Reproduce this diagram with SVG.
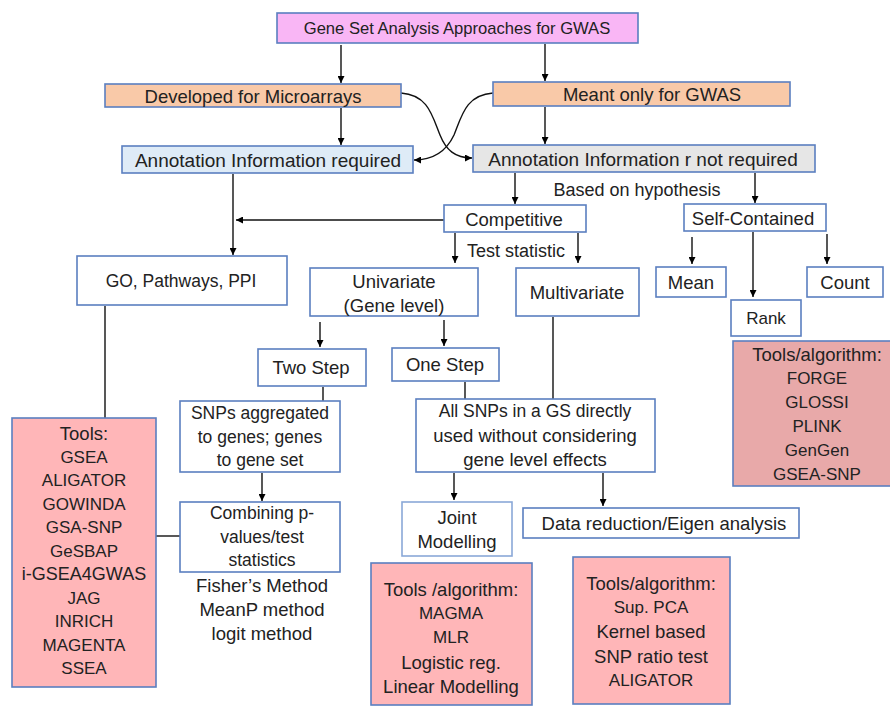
<svg xmlns="http://www.w3.org/2000/svg" width="890" height="706" viewBox="0 0 890 706">
<defs>
<marker id="ah" viewBox="0 0 10 10" refX="10" refY="5" markerWidth="7" markerHeight="7" markerUnits="userSpaceOnUse" orient="auto"><path d="M0,0 L10,5 L0,10 z" fill="#000"/></marker>
<style>
text{font-family:"Liberation Sans",Arial,sans-serif;font-size:18.5px;fill:#222;text-anchor:middle;dominant-baseline:central}
.u{font-size:17px}
.m{font-size:17.5px}
.b{stroke:#5b7fc0;stroke-width:1.6}
.w{fill:#fff}
.c{fill:none;stroke:#111;stroke-width:1.4}
.a{marker-end:url(#ah)}
.t1{fill:#ffb6b8}
.t2{fill:#e8a9a9}
</style>
</defs>
<rect width="890" height="706" fill="#fff"/>
<g id="connectors">
<line class="c a" x1="341" y1="45" x2="341" y2="83"/>
<line class="c a" x1="545" y1="44" x2="545" y2="81"/>
<line class="c a" x1="341" y1="108" x2="341" y2="145"/>
<line class="c a" x1="545" y1="107" x2="545" y2="144"/>
<path class="c a" d="M401,93 C428,95 432,115 440,135 C446,150 455,158 472,158"/>
<path class="c a" d="M493,93 C466,95 462,115 454,135 C446,152 432,160 414,160"/>
<line class="c a" x1="515" y1="173" x2="515" y2="204"/>
<line class="c a" x1="755" y1="173" x2="755" y2="203"/>
<line class="c" x1="233" y1="174" x2="233" y2="220"/>
<line class="c a" x1="233" y1="220" x2="233" y2="255"/>
<line class="c a" x1="444" y1="220" x2="236" y2="220"/>
<line class="c a" x1="455" y1="233" x2="455" y2="263"/>
<line class="c a" x1="578" y1="233" x2="578" y2="263"/>
<line class="c a" x1="692" y1="237" x2="692" y2="264"/>
<line class="c a" x1="753" y1="232" x2="753" y2="297"/>
<line class="c a" x1="827" y1="234" x2="827" y2="264"/>
<line class="c a" x1="320" y1="322" x2="320" y2="347"/>
<line class="c a" x1="444" y1="320" x2="444" y2="346"/>
<line class="c" x1="323" y1="387" x2="323" y2="401"/>
<line class="c a" x1="262" y1="473" x2="262" y2="501"/>
<line class="c" x1="105" y1="306" x2="105" y2="418"/>
<line class="c" x1="156" y1="536" x2="180" y2="536"/>
<line class="c" x1="465" y1="382" x2="465" y2="399"/>
<line class="c" x1="553" y1="317" x2="553" y2="399"/>
<line class="c a" x1="454" y1="473" x2="454" y2="500"/>
<line class="c a" x1="603" y1="473" x2="603" y2="506"/>
</g>
<g id="title"><rect class="b" x="277" y="13" width="361" height="30" fill="#f9b6f5"/><text x="457" y="28" style="font-size:16.6px">Gene Set Analysis Approaches for GWAS</text></g>
<g id="micro"><rect class="b" x="105" y="84" width="296" height="23" fill="#f9c9a8"/><text x="253" y="96">Developed for Microarrays</text></g>
<g id="gwas"><rect class="b" x="493" y="82" width="297" height="24" fill="#f9c9a8"/><text x="652" y="94">Meant only for GWAS</text></g>
<g id="annreq"><rect class="b" x="122" y="146" width="291" height="27" fill="#deebf7"/><text x="268" y="160" style="font-size:19px">Annotation Information required</text></g>
<g id="annnot"><rect class="b" x="473" y="145" width="342" height="27" fill="#e6e6e6"/><text x="643" y="159" style="font-size:19px">Annotation Information r not required</text></g>
<g id="hyp"><text x="637" y="190" style="font-size:18px">Based on hypothesis</text></g>
<g id="competitive"><rect class="b w" x="444" y="205" width="142" height="27"/><text x="514" y="219">Competitive</text></g>
<g id="selfcont"><rect class="b w" x="684" y="204" width="142" height="27"/><text x="753" y="218">Self-Contained</text></g>
<g id="teststat"><text x="516" y="251" style="font-size:18px">Test statistic</text></g>
<g id="go"><rect class="b w" x="77" y="256" width="210" height="49"/><text x="181" y="281" class="m">GO, Pathways, PPI</text></g>
<g id="univariate"><rect class="b w" x="310" y="268" width="168" height="48"/><text x="394" y="281">Univariate</text><text x="394" y="305">(Gene level)</text></g>
<g id="multivariate"><rect class="b w" x="516" y="268" width="123" height="48"/><text x="577" y="292">Multivariate</text></g>
<g id="mean"><rect class="b w" x="656" y="267" width="70" height="30"/><text x="691" y="282">Mean</text></g>
<g id="rank"><rect class="b w" x="731" y="300" width="70" height="36"/><text x="766" y="318" class="u">Rank</text></g>
<g id="count"><rect class="b w" x="807" y="267" width="76" height="30"/><text x="845" y="282">Count</text></g>
<g id="tools-right"><rect class="b t2" x="733" y="341" width="160" height="145"/><text x="817" y="354">Tools/algorithm:</text><text x="817" y="378" class="u">FORGE</text><text x="817" y="402" class="u">GLOSSI</text><text x="817" y="426" class="u">PLINK</text><text x="817" y="450" class="u">GenGen</text><text x="817" y="474" class="u">GSEA-SNP</text></g>
<g id="twostep"><rect class="b w" x="258" y="349" width="108" height="37"/><text x="311" y="367">Two Step</text></g>
<g id="onestep"><rect class="b w" x="392" y="348" width="107" height="33"/><text x="445" y="364">One Step</text></g>
<g id="snpsagg"><rect class="b w" x="180" y="401" width="160" height="71"/><text x="260" y="413" class="m">SNPs aggregated</text><text x="260" y="437" class="m">to genes; genes</text><text x="260" y="460" class="m">to gene set</text></g>
<g id="combining"><rect class="b w" x="180" y="502" width="160" height="70"/><text x="262" y="513" class="m">Combining p-</text><text x="262" y="537" class="m">values/test</text><text x="262" y="560" class="m">statistics</text></g>
<g id="methods"><text x="262" y="585">Fisher’s Method</text><text x="262" y="609">MeanP method</text><text x="262" y="633">logit  method</text></g>
<g id="tools-left"><rect class="b t1" x="12" y="418" width="144" height="269"/><text x="84" y="433">Tools:</text><text x="84" y="457" class="u">GSEA</text><text x="84" y="480" class="u">ALIGATOR</text><text x="84" y="504" class="u">GOWINDA</text><text x="84" y="527" class="u">GSA-SNP</text><text x="84" y="551" class="u">GeSBAP</text><text x="84" y="574" style="font-size:18px">i-GSEA4GWAS</text><text x="84" y="598" class="u">JAG</text><text x="84" y="621" class="u">INRICH</text><text x="84" y="645" class="u">MAGENTA</text><text x="84" y="668" class="u">SSEA</text></g>
<g id="allsnps"><rect class="b w" x="416" y="399" width="239" height="73"/><text x="535" y="411" class="m">All SNPs in a GS directly</text><text x="535" y="435">used without considering</text><text x="535" y="459">gene level effects</text></g>
<g id="joint"><rect x="402" y="502" width="110" height="54" fill="#fff" stroke="#8aa8d8" stroke-width="1.6"/><text x="457" y="517">Joint</text><text x="457" y="541">Modelling</text></g>
<g id="datared"><rect class="b w" x="523" y="508" width="276" height="30"/><text x="664" y="523">Data reduction/Eigen analysis</text></g>
<g id="tools-mid"><rect class="b t1" x="371" y="563" width="161" height="142"/><text x="451" y="589">Tools /algorithm:</text><text x="451" y="613" class="u">MAGMA</text><text x="451" y="637" class="u">MLR</text><text x="451" y="662">Logistic reg.</text><text x="451" y="686">Linear Modelling</text></g>
<g id="tools-data"><rect class="b t1" x="573" y="557" width="157" height="147"/><text x="651" y="583">Tools/algorithm:</text><text x="651" y="607" class="u">Sup. PCA</text><text x="651" y="631">Kernel based</text><text x="651" y="656">SNP ratio test</text><text x="651" y="680" class="u">ALIGATOR</text></g>
</svg>
